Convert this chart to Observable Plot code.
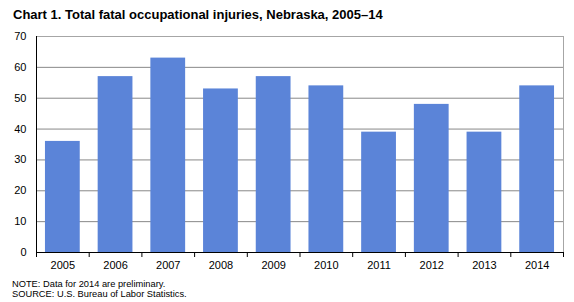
<!DOCTYPE html>
<html>
<head>
<meta charset="utf-8">
<script src="https://cdn.jsdelivr.net/npm/d3@7"></script>
<script src="https://cdn.jsdelivr.net/npm/@observablehq/plot@0.6"></script>
<style>
  html, body { margin: 0; padding: 0; background: #fff; }
  #wrap { position: relative; width: 574px; height: 302px; overflow: hidden; font-family: Arial, "Liberation Sans", sans-serif; }
  #title { position: absolute; left: 13px; top: 7px; font-size: 13px; font-weight: bold; color: #000; white-space: nowrap; }
  #note { position: absolute; left: 12px; top: 280px; font-size: 9.3px; line-height: 9.5px; color: #000; white-space: nowrap; }
  #chart { position: absolute; left: 0; top: 0; }
</style>
</head>
<body>
<div id="wrap">
  <div id="chart"></div>
  <div id="title">Chart 1. Total fatal occupational injuries, Nebraska, 2005–14</div>
  <div id="note">NOTE: Data for 2014 are preliminary.<br>SOURCE: U.S. Bureau of Labor Statistics.</div>
</div>
<script>
const years = [2005, 2006, 2007, 2008, 2009, 2010, 2011, 2012, 2013, 2014];
const injuries = [36, 57, 63, 53, 57, 54, 39, 48, 39, 54];
const yTicks = [0, 10, 20, 30, 40, 50, 60, 70];

const data = years.map((y, i) => ({year: y, value: injuries[i]}));
const bounds = [years[0] - 0.5, ...years.map(y => y + 0.5)];
const half = 0.33;

const chart = Plot.plot({
  width: 574,
  height: 302,
  marginLeft: 36,
  marginRight: 11,
  marginTop: 36,
  marginBottom: 50,
  style: {fontFamily: "Arial, 'Liberation Sans', sans-serif", fontSize: "11px", color: "#000", background: "transparent"},
  x: {type: "linear", domain: [bounds[0], bounds[bounds.length - 1]], axis: null, label: null},
  y: {domain: [0, 70], axis: null, label: null},
  marks: [
    Plot.gridY(yTicks.slice(1, -1), {stroke: "#888", strokeOpacity: 1, strokeWidth: 1}),
    Plot.ruleY([70], {stroke: "#a6a6a6", strokeWidth: 1}),
    Plot.ruleX([bounds[bounds.length - 1]], {stroke: "#a6a6a6", strokeWidth: 1}),
    Plot.rectY(data, {x1: d => d.year - half, x2: d => d.year + half, y1: 0, y2: "value", fill: "#5b84d8"}),
    Plot.ruleY([0], {stroke: "#000", strokeWidth: 1}),
    Plot.ruleX([bounds[0]], {stroke: "#000", strokeWidth: 1}),
    Plot.axisX({ticks: bounds, tickFormat: () => "", tickSize: 5, stroke: "#000", strokeOpacity: 1, label: null}),
    Plot.axisX({ticks: years, tickFormat: d => String(d), tickSize: 0, tickPadding: 9, fill: "#000", label: null}),
    Plot.axisY({ticks: yTicks, tickFormat: d => String(d), tickSize: 0, tickPadding: 10, fill: "#000", label: null})
  ]
});
document.getElementById("chart").appendChild(chart);
</script>
</body>
</html>
